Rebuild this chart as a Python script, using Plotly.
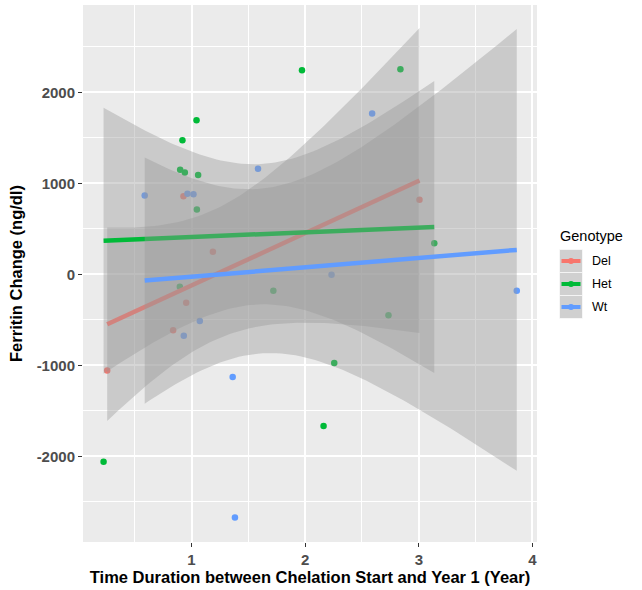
import numpy as np
import plotly.graph_objects as go

# ---------------- data ----------------
genotypes = ["Del", "Het", "Wt"]
colors = {"Del": "#F8766D", "Het": "#00BA38", "Wt": "#619CFF"}

del_x = [0.929, 1.188, 0.953, 0.838, 0.258, 3.006]
del_y = [860, 250, -312, -614, -1055, 819]

het_x = [1.972, 1.044, 0.920, 0.900, 0.941, 1.058, 1.047, 0.897, 1.720,
         0.226, 2.838, 3.136, 2.733, 2.256, 2.162]
het_y = [2242, 1694, 1474, 1150, 1121, 1091, 713, -136, -180,
         -2058, 2253, 342, -449, -974, -1665]

wt_x = [1.585, 0.588, 0.964, 1.017, 1.073, 0.932, 1.362, 1.382, 2.589,
        2.232, 3.862]
wt_y = [1161, 867, 886, 882, -511, -673, -1128, -2672, 1768, -3, -180]

x_ticks = [1, 2, 3, 4]
y_ticks = [-2000, -1000, 0, 1000, 2000]

groups = {"Del": (del_x, del_y), "Het": (het_x, het_y), "Wt": (wt_x, wt_y)}

# t quantiles (0.975) by degrees of freedom
T975 = {1: 12.706, 2: 4.303, 3: 3.182, 4: 2.776, 5: 2.571, 6: 2.447, 7: 2.365,
        8: 2.306, 9: 2.262, 10: 2.228, 11: 2.201, 12: 2.179, 13: 2.160,
        14: 2.145, 15: 2.131, 16: 2.120, 17: 2.110, 18: 2.101, 19: 2.093,
        20: 2.086}


def lm_band(x, y, npts=80):
    x = np.asarray(x, float)
    y = np.asarray(y, float)
    n = len(x)
    b1, b0 = np.polyfit(x, y, 1)
    xs = np.linspace(x.min(), x.max(), npts)
    yhat = b0 + b1 * xs
    resid = y - (b0 + b1 * x)
    s = np.sqrt(np.sum(resid ** 2) / (n - 2))
    sxx = np.sum((x - x.mean()) ** 2)
    se = s * np.sqrt(1.0 / n + (xs - x.mean()) ** 2 / sxx)
    t = T975.get(n - 2, 1.96)
    return xs, yhat, yhat - t * se, yhat + t * se


fig = go.Figure()

# points first
for g in genotypes:
    gx, gy = groups[g]
    fig.add_trace(go.Scatter(x=gx, y=gy, mode="markers", name=g,
                             marker=dict(color=colors[g], size=6.5),
                             showlegend=False, hoverinfo="x+y"))

# smooths: ribbon then line, per group
for g in genotypes:
    gx, gy = groups[g]
    xs, yhat, lo, hi = lm_band(gx, gy)
    fig.add_trace(go.Scatter(
        x=np.concatenate([xs, xs[::-1]]),
        y=np.concatenate([hi, lo[::-1]]),
        mode="lines", fill="toself", fillcolor="rgba(153,153,153,0.4)",
        line=dict(width=0), showlegend=False, hoverinfo="skip"))
    fig.add_trace(go.Scatter(x=xs, y=yhat, mode="lines",
                             line=dict(color=colors[g], width=4.5),
                             showlegend=False, hoverinfo="skip"))

# ---------------- layout ----------------
W, H = 642, 590
L, R, T, B = 83, 537, 5, 542
pw, ph = R - L, B - T


def px2paper(px, py):
    return (px - L) / pw, (B - py) / ph


tickfont = dict(family="Liberation Sans, Arial, sans-serif", size=15,
                color="#4D4D4D")
titlefont = dict(family="Liberation Sans, Arial, sans-serif", size=16.5,
                 color="black")

axis_common = dict(
    showgrid=True, gridcolor="white", gridwidth=1.6,
    zeroline=False, showline=False,
    ticks="outside", ticklen=4, tickcolor="#333333", tickwidth=1,
    tickfont=tickfont,
)

fig.update_layout(
    width=W, height=H,
    margin=dict(l=L, r=W - R, t=T, b=H - B, pad=0),
    paper_bgcolor="white", plot_bgcolor="#EBEBEB",
    showlegend=False,
    xaxis=dict(range=[0.045, 4.04], tickvals=x_ticks,
               ticktext=["<b>%d</b>" % v for v in x_ticks],
               minor=dict(dtick=0.5, tick0=0, showgrid=True,
                          gridcolor="white", gridwidth=0.7, ticks=""),
               title=dict(text="<b>Time Duration between Chelation Start and Year 1 (Year)</b>",
                          font=titlefont, standoff=4),
               **axis_common),
    yaxis=dict(range=[-2940, 2960], tickvals=y_ticks,
               ticktext=["<b>%d</b>" % v for v in y_ticks],
               minor=dict(dtick=500, tick0=0, showgrid=True,
                          gridcolor="white", gridwidth=0.7, ticks=""),
               title=dict(text="<b>Ferritin Change (ng/dl)</b>",
                          font=titlefont, standoff=9),
               **axis_common),
)

# ---------------- manual ggplot-style legend ----------------
shapes = []
annotations = []
tx, ty = px2paper(558, 236)
annotations.append(dict(x=tx, y=ty, xref="paper", yref="paper",
                        text="Genotype", showarrow=False,
                        xanchor="left", yanchor="middle",
                        font=dict(family="Liberation Sans, Arial, sans-serif",
                                  size=14.5, color="black")))
key_top = 249.5
key_h = 23
key_l, key_r = 559.5, 582.5
for i, g in enumerate(genotypes):
    y0 = key_top + i * key_h
    y1 = y0 + key_h
    x0p, y0p = px2paper(key_l, y1)
    x1p, y1p = px2paper(key_r, y0)
    shapes.append(dict(type="rect", xref="paper", yref="paper",
                       x0=x0p, x1=x1p, y0=y0p, y1=y1p,
                       fillcolor="#D0D0D0", line=dict(color="white", width=0.6)))
    cy = (y0 + y1) / 2
    lx0, lyp = px2paper(key_l + 2, cy)
    lx1, _ = px2paper(key_r - 2, cy)
    shapes.append(dict(type="line", xref="paper", yref="paper",
                       x0=lx0, x1=lx1, y0=lyp, y1=lyp,
                       line=dict(color=colors[g], width=4)))
    cx = (key_l + key_r) / 2
    c0x, c0y = px2paper(cx - 3, cy + 3)
    c1x, c1y = px2paper(cx + 3, cy - 3)
    shapes.append(dict(type="circle", xref="paper", yref="paper",
                       x0=c0x, x1=c1x, y0=c0y, y1=c1y,
                       fillcolor=colors[g], line=dict(width=0)))
    ax_, ay_ = px2paper(590, cy)
    annotations.append(dict(x=ax_, y=ay_, xref="paper", yref="paper",
                            text=g, showarrow=False, xanchor="left",
                            yanchor="middle",
                            font=dict(family="Liberation Sans, Arial, sans-serif",
                                      size=12.5, color="black")))

fig.update_layout(shapes=shapes, annotations=annotations)

fig.write_html("out.html", config={"displayModeBar": False},
               post_script="document.body.style.margin='0';document.body.style.overflow='hidden';")
